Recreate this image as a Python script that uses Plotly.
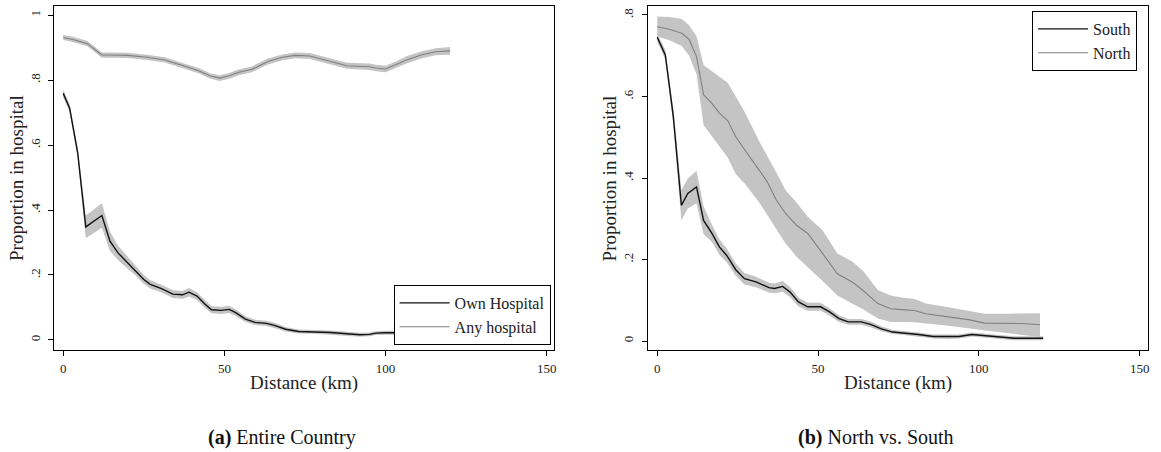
import plotly.graph_objects as go

# ---------------- data: panel (a) Entire Country ----------------
own_x = [0, 2, 4.5, 7, 12, 14.5, 17, 20, 22, 25, 27, 30.5, 34, 37, 39, 41.5, 44, 46, 49, 51.5,
         53.5, 56.5, 59.5, 63, 65.5, 69, 73, 78, 83, 88, 92, 95, 97, 100, 105, 110, 115, 120]
own_y = [0.759, 0.713, 0.575, 0.348, 0.383, 0.304, 0.268, 0.237, 0.219, 0.186, 0.171, 0.158, 0.141,
         0.139, 0.147, 0.135, 0.11, 0.093, 0.091, 0.094, 0.084, 0.064, 0.054, 0.051, 0.045, 0.033,
         0.026, 0.025, 0.023, 0.019, 0.016, 0.017, 0.021, 0.022, 0.023, 0.022, 0.021, 0.02]
own_lo = [0.747, 0.701, 0.56, 0.313, 0.345, 0.274, 0.246, 0.219, 0.203, 0.172, 0.158, 0.146, 0.129,
          0.127, 0.134, 0.123, 0.098, 0.082, 0.08, 0.083, 0.074, 0.055, 0.046, 0.043, 0.037, 0.026,
          0.02, 0.019, 0.017, 0.013, 0.01, 0.011, 0.015, 0.016, 0.017, 0.016, 0.015, 0.014]
own_hi = [0.771, 0.725, 0.59, 0.383, 0.421, 0.334, 0.29, 0.255, 0.235, 0.2, 0.184, 0.17, 0.153,
          0.151, 0.16, 0.147, 0.122, 0.104, 0.102, 0.105, 0.094, 0.073, 0.062, 0.059, 0.053, 0.04,
          0.032, 0.031, 0.029, 0.025, 0.022, 0.023, 0.027, 0.028, 0.029, 0.028, 0.027, 0.026]

any_x = [0, 3, 7.5, 12, 14.5, 20, 26, 31.5, 37.5, 42, 45.5, 48.5, 51.5, 54.5, 58.5, 63.5, 68, 72,
         76.5, 81, 88, 95, 97, 100, 103, 106.5, 111, 115.5, 120]
any_y = [0.931, 0.925, 0.912, 0.877, 0.877, 0.876, 0.870, 0.862, 0.843, 0.829, 0.813, 0.806, 0.813,
         0.824, 0.833, 0.857, 0.870, 0.876, 0.874, 0.862, 0.844, 0.841, 0.837, 0.834, 0.846, 0.862,
         0.877, 0.887, 0.890]
any_lo = [0.923, 0.917, 0.904, 0.869, 0.869, 0.868, 0.862, 0.854, 0.835, 0.821, 0.805, 0.797, 0.804,
          0.815, 0.824, 0.848, 0.861, 0.867, 0.865, 0.853, 0.835, 0.831, 0.827, 0.824, 0.836, 0.851,
          0.866, 0.876, 0.878]
any_hi = [0.939, 0.933, 0.920, 0.885, 0.885, 0.884, 0.878, 0.870, 0.851, 0.837, 0.821, 0.815, 0.822,
          0.833, 0.842, 0.866, 0.879, 0.885, 0.883, 0.871, 0.853, 0.851, 0.847, 0.844, 0.856, 0.873,
          0.888, 0.898, 0.902]

# ---------------- data: panel (b) North vs. South ----------------
south_x = [0, 2.5, 5, 7.5, 9.5, 12.2, 14.4, 17, 19.3, 21.6, 24.4, 27.1, 30.7, 34.7, 36.5, 39, 41.3,
           43.9, 46.8, 50.8, 53.7, 56.5, 59.4, 63.4, 66.3, 69.7, 73.2, 76.6, 81.2, 85.8, 90.4, 93.8,
           97.8, 101.8, 106.4, 111, 120]
south_y = [0.745, 0.702, 0.55, 0.333, 0.362, 0.378, 0.296, 0.264, 0.231, 0.21, 0.175, 0.153, 0.145,
           0.131, 0.129, 0.134, 0.12, 0.096, 0.084, 0.084, 0.071, 0.055, 0.047, 0.047, 0.041, 0.03,
           0.022, 0.02, 0.016, 0.011, 0.01, 0.011, 0.016, 0.013, 0.01, 0.007, 0.007]
south_lo = [0.735, 0.69, 0.53, 0.296, 0.325, 0.338, 0.262, 0.243, 0.212, 0.193, 0.16, 0.139, 0.132,
            0.119, 0.117, 0.121, 0.108, 0.085, 0.074, 0.074, 0.062, 0.047, 0.04, 0.04, 0.034, 0.024,
            0.017, 0.015, 0.011, 0.006, 0.005, 0.006, 0.011, 0.008, 0.005, 0.002, 0.002]
south_hi = [0.755, 0.714, 0.57, 0.37, 0.399, 0.418, 0.33, 0.285, 0.25, 0.227, 0.19, 0.167, 0.158,
            0.143, 0.141, 0.147, 0.132, 0.107, 0.094, 0.094, 0.08, 0.063, 0.054, 0.054, 0.048, 0.036,
            0.027, 0.025, 0.021, 0.016, 0.015, 0.016, 0.021, 0.018, 0.015, 0.012, 0.012]

north_x = [0, 3.8, 7.6, 9.9, 12.2, 14.4, 17, 19.3, 21.9, 24.4, 27.3, 31.7, 34.2, 37, 39.9, 43.3,
           46.8, 51.4, 56, 60.6, 64, 68.6, 72.6, 76, 80, 83.5, 89.2, 92.7, 97.2, 101.8, 108.7, 113.3, 119]
north_y = [0.771, 0.765, 0.755, 0.74, 0.698, 0.604, 0.583, 0.559, 0.541, 0.501, 0.468, 0.419, 0.391,
           0.346, 0.313, 0.284, 0.264, 0.215, 0.165, 0.145, 0.124, 0.092, 0.079, 0.077, 0.075, 0.067,
           0.061, 0.057, 0.052, 0.044, 0.044, 0.043, 0.04]
north_lo = [0.747, 0.738, 0.724, 0.70, 0.655, 0.53, 0.505, 0.478, 0.45, 0.41, 0.385, 0.34, 0.31,
            0.275, 0.239, 0.207, 0.18, 0.147, 0.112, 0.092, 0.078, 0.055, 0.047, 0.047, 0.046, 0.043,
            0.039, 0.036, 0.031, 0.026, 0.02, 0.015, 0.01]
north_hi = [0.796, 0.795, 0.79, 0.775, 0.748, 0.677, 0.662, 0.648, 0.634, 0.60, 0.56, 0.49, 0.455,
            0.414, 0.37, 0.34, 0.305, 0.272, 0.215, 0.195, 0.172, 0.125, 0.112, 0.107, 0.103, 0.092,
            0.085, 0.08, 0.074, 0.067, 0.067, 0.068, 0.068]

x_ticks = [0, 50, 100, 150]
x_ticklabels = ["0", "50", "100", "150"]
yl_ticks = [0, 0.2, 0.4, 0.6, 0.8, 1.0]
yl_ticklabels = ["0", ".2", ".4", ".6", ".8", "1"]
yr_ticks = [0, 0.2, 0.4, 0.6, 0.8]
yr_ticklabels = ["0", ".2", ".4", ".6", ".8"]

FONT = "Liberation Serif, DejaVu Serif, serif"
BAND = "#c4c4c4"
BLACK = "#111111"
GRAY = "#808080"

fig = go.Figure()


def band(x, lo, hi, xa, ya):
    fig.add_trace(go.Scatter(x=list(x) + list(x)[::-1], y=list(hi) + list(lo)[::-1],
                             fill="toself", fillcolor=BAND, line=dict(width=0),
                             mode="lines", hoverinfo="skip", showlegend=False,
                             xaxis=xa, yaxis=ya))


band(own_x, own_lo, own_hi, "x", "y")
band(any_x, any_lo, any_hi, "x", "y")
fig.add_trace(go.Scatter(x=own_x, y=own_y, mode="lines", name="Own Hospital",
                         line=dict(color=BLACK, width=1.4), xaxis="x", yaxis="y", legend="legend"))
fig.add_trace(go.Scatter(x=any_x, y=any_y, mode="lines", name="Any hospital",
                         line=dict(color=GRAY, width=1.1), xaxis="x", yaxis="y", legend="legend"))

band(south_x, south_lo, south_hi, "x2", "y2")
band(north_x, north_lo, north_hi, "x2", "y2")
fig.add_trace(go.Scatter(x=south_x, y=south_y, mode="lines", name="South",
                         line=dict(color=BLACK, width=1.4), xaxis="x2", yaxis="y2", legend="legend2"))
fig.add_trace(go.Scatter(x=north_x, y=north_y, mode="lines", name="North",
                         line=dict(color=GRAY, width=1.1), xaxis="x2", yaxis="y2", legend="legend2"))

W, H = 1161, 452
ydom = [(H - 350) / H, (H - 6) / H]
axis_common = dict(showgrid=False, zeroline=False, showline=True, linecolor="black", linewidth=1,
                   mirror=True, ticks="outside", ticklen=5, tickcolor="black", tickwidth=1,
                   tickfont=dict(family=FONT, size=13, color="#222"))

fig.update_layout(
    width=W, height=H, margin=dict(l=0, r=0, t=0, b=0),
    paper_bgcolor="white", plot_bgcolor="white",
    font=dict(family=FONT, color="#222"),
    xaxis=dict(domain=[54 / W, 555 / W], range=[-2.9, 152.1], tickvals=x_ticks,
               ticktext=x_ticklabels, anchor="y", ticklabelstandoff=1, **axis_common),
    yaxis=dict(domain=ydom, range=[-0.031, 1.028], tickvals=yl_ticks, ticktext=yl_ticklabels,
               tickangle=-90, anchor="x", ticklabelstandoff=3, **axis_common),
    xaxis2=dict(domain=[649.3 / W, 1151 / W], range=[-3.0, 152.6], tickvals=x_ticks,
                ticktext=x_ticklabels, anchor="y2", ticklabelstandoff=1, **axis_common),
    yaxis2=dict(domain=ydom, range=[-0.022, 0.822], tickvals=yr_ticks, ticktext=yr_ticklabels,
                tickangle=-90, anchor="x2", ticklabelstandoff=3, **axis_common),
    legend=dict(x=552 / W, y=(H - 345) / H, xanchor="right", yanchor="bottom",
                bgcolor="white", bordercolor="black", borderwidth=1,
                font=dict(family=FONT, size=16, color="#222"), itemwidth=50, tracegroupgap=0),
    legend2=dict(x=1140 / W, y=(H - 11) / H, xanchor="right", yanchor="top",
                 bgcolor="white", bordercolor="black", borderwidth=1,
                 font=dict(family=FONT, size=16, color="#222"), itemwidth=50, tracegroupgap=0),
    showlegend=True,
)

ann = []
for cx, ttl in [((54 + 555) / 2, "Distance (km)"), ((649.3 + 1151) / 2, "Distance (km)")]:
    ann.append(dict(x=cx / W, y=(H - 383) / H, xref="paper", yref="paper", text=ttl,
                    showarrow=False, xanchor="center", yanchor="middle",
                    font=dict(family=FONT, size=19, color="#222")))
for cx in [17, 612]:
    ann.append(dict(x=cx / W, y=(H - 178) / H, xref="paper", yref="paper",
                    text="Proportion in hospital", textangle=-90, showarrow=False,
                    xanchor="center", yanchor="middle",
                    font=dict(family=FONT, size=19, color="#222")))
ann.append(dict(x=283 / W, y=(H - 437) / H, xref="paper", yref="paper",
                text="<b>(a)</b> Entire Country", showarrow=False, xanchor="center",
                yanchor="middle", font=dict(family=FONT, size=20, color="#111")))
ann.append(dict(x=878 / W, y=(H - 437) / H, xref="paper", yref="paper",
                text="<b>(b)</b> North vs. South", showarrow=False, xanchor="center",
                yanchor="middle", font=dict(family=FONT, size=20, color="#111")))
fig.update_layout(annotations=ann)

fig.write_html("out.html", config={"displayModeBar": False},
               post_script="document.body.style.margin='0';document.body.style.overflow='hidden';")
